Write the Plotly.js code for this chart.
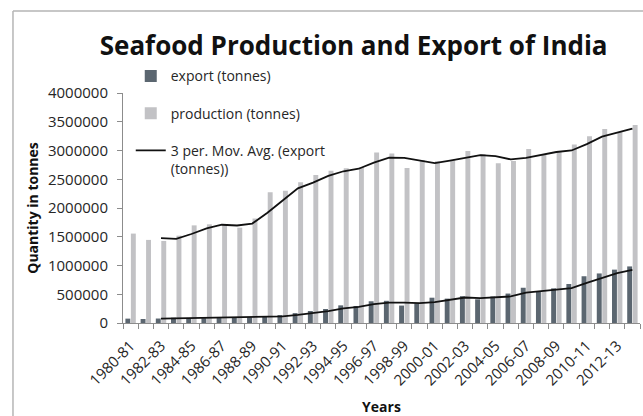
<!DOCTYPE html>
<html>
<head>
<meta charset="utf-8">
<script src="https://cdn.plot.ly/plotly-3.0.1.min.js"></script>
<style>
  html, body { margin: 0; padding: 0; background: #ffffff; }
  #chart { width: 643px; height: 416px; }
</style>
</head>
<body>
<div id="chart"></div>
<script>
// ---- data ----
const categories = ['1980-81','1981-82','1982-83','1983-84','1984-85','1985-86','1986-87','1987-88',
  '1988-89','1989-90','1990-91','1991-92','1992-93','1993-94','1994-95','1995-96','1996-97','1997-98',
  '1998-99','1999-00','2000-01','2001-02','2002-03','2003-04','2004-05','2005-06','2006-07','2007-08',
  '2008-09','2009-10','2010-11','2011-12','2012-13','2013-14'];

const exportTonnes = [76000, 70000, 78000, 92000, 86000, 84000, 86000, 97000, 100000, 111000,
  139000, 172000, 209000, 244000, 307000, 296000, 378000, 386000, 303000, 343000,
  440000, 424000, 467000, 412000, 461000, 512000, 613000, 542000, 603000, 678000,
  813000, 862000, 928000, 984000];

const productionTonnes = [1555000, 1445000, 1427000, 1519000, 1698000, 1716000, 1713000, 1658000,
  1817000, 2275000, 2300000, 2447000, 2576000, 2649000, 2692000, 2707000, 2967000, 2950000,
  2696000, 2834000, 2811000, 2830000, 2990000, 2941000, 2779000, 2816000, 3024000, 2920000,
  2978000, 3104000, 3250000, 3372000, 3321000, 3443000];

const xTickLabels = ['1980-81','','1982-83','','1984-85','','1986-87','','1988-89','','1990-91','',
  '1992-93','','1994-95','','1996-97','','1998-99','','2000-01','','2002-03','','2004-05','',
  '2006-07','','2008-09','','2010-11','','2012-13',''];

const yTickValues = [0, 500000, 1000000, 1500000, 2000000, 2500000, 3000000, 3500000, 4000000];

// 3-period moving average (Excel trendline definition), computed from the series above
function movingAverage(arr, n) {
  return arr.map((v, i) => {
    if (i < n - 1) return null;
    let s = 0;
    for (let k = i - n + 1; k <= i; k++) s += arr[k];
    return s / n;
  });
}

const FONT = '"Open Sans", "Liberation Sans", sans-serif';

const traces = [
  {
    type: 'bar', name: 'export (tonnes)', x: categories, y: exportTonnes,
    marker: { color: '#5b6670' }, legendgroup: 'g1'
  },
  {
    type: 'bar', name: 'production (tonnes)', x: categories, y: productionTonnes,
    marker: { color: '#c2c2c5' }, legendgroup: 'g2'
  },
  {
    type: 'scatter', mode: 'lines', name: '3 per. Mov. Avg. (export<br>(tonnes))',
    x: categories, y: movingAverage(exportTonnes, 3),
    line: { color: '#111111', width: 1.8 }, legendgroup: 'g3'
  },
  {
    type: 'scatter', mode: 'lines', name: '3 per. Mov. Avg. (production (tonnes))',
    x: categories, y: movingAverage(productionTonnes, 3),
    line: { color: '#111111', width: 1.8 }, showlegend: false
  }
];

const layout = {
  width: 643, height: 416,
  margin: { l: 123, r: 3, t: 93, b: 93, pad: 0 },
  paper_bgcolor: '#ffffff', plot_bgcolor: '#ffffff',
  font: { family: FONT, color: '#262626', size: 14 },
  title: {
    text: '<b>Seafood Production and Export of India</b>',
    font: { family: FONT, size: 26, color: '#111111' },
    xref: 'container', x: 0.55, xanchor: 'center',
    yref: 'container', y: 0.889, yanchor: 'middle'
  },
  barmode: 'group', bargap: 0.28, bargroupgap: 0.1,
  showlegend: true,
  legend: {
    x: 0.015, xanchor: 'left', y: 1.142, yanchor: 'top',
    bgcolor: 'rgba(0,0,0,0)', borderwidth: 0,
    font: { family: FONT, size: 14, color: '#262626' },
    traceorder: 'grouped', tracegroupgap: 16, valign: 'top'
  },
  xaxis: {
    type: 'category',
    tickvals: categories, ticktext: xTickLabels,
    tickson: 'boundaries', ticks: 'outside', ticklen: 5, tickcolor: '#8c8c8c',
    tickangle: -45, tickfont: { family: FONT, size: 15, color: '#262626' },
    ticklabelstandoff: 7,
    showline: true, linecolor: '#8c8c8c', linewidth: 1,
    showgrid: false, zeroline: false,
    range: [-0.5, 33.5],
    title: { text: '<b>Years</b>', font: { family: FONT, size: 14, color: '#111111' }, standoff: 18 }
  },
  yaxis: {
    range: [0, 4000000], tickvals: yTickValues, tickformat: 'd',
    ticks: 'outside', ticklen: 5, tickcolor: '#8c8c8c',
    tickfont: { family: FONT, size: 15, color: '#262626' },
    ticklabelstandoff: 6,
    showline: true, linecolor: '#8c8c8c', linewidth: 1,
    showgrid: false, zeroline: false,
    title: { text: '<b>Quantity in tonnes</b>', font: { family: FONT, size: 14, color: '#111111' }, standoff: 6 }
  },
  shapes: [
    { type: 'line', xref: 'paper', yref: 'paper', x0: -0.2128, x1: -0.2128, y0: -0.5, y1: 1.3565,
      line: { color: '#b5b5b5', width: 1.5 } },
    { type: 'line', xref: 'paper', yref: 'paper', x0: -0.2128, x1: 1.05, y0: 1.3565, y1: 1.3565,
      line: { color: '#b5b5b5', width: 1.5 } }
  ]
};

Plotly.newPlot('chart', traces, layout, { displayModeBar: false, staticPlot: true });
</script>
</body>
</html>
